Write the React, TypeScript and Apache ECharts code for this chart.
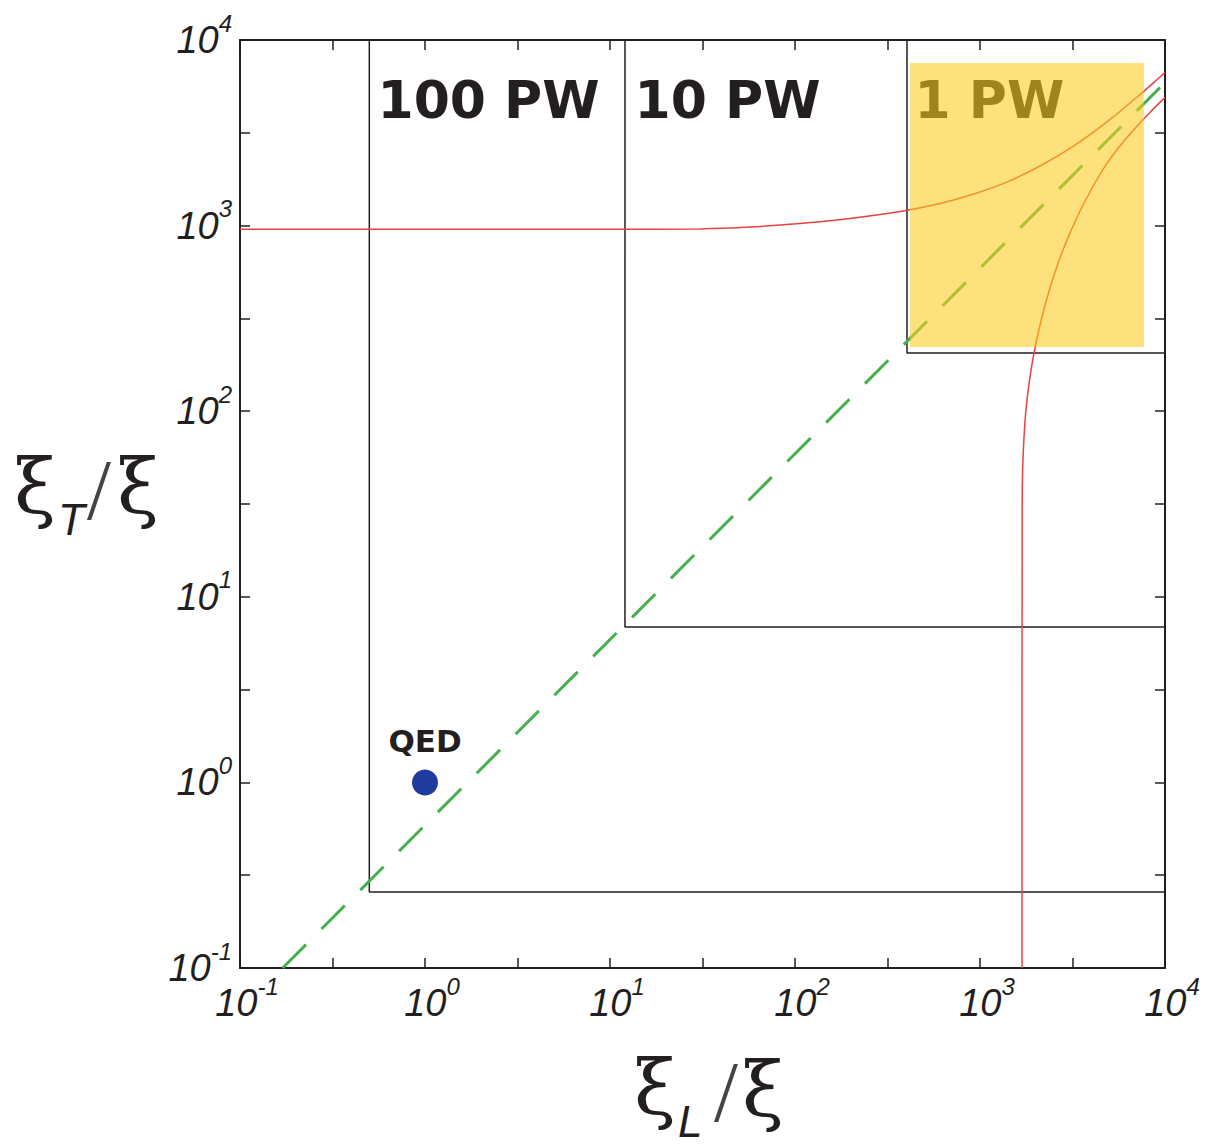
import React, { useEffect, useRef } from "react";
import * as echarts from "echarts";

// ---- axis tick labels (exponents of 10) ----
const decadeExponents = [-1, 0, 1, 2, 3, 4];

// ---- upper red branch (xi_L/xi, xi_T/xi) ----
const upperXiL = [0.1, 8.8, 30.6, 57.1, 106, 198, 370, 608, 916, 1384, 2109, 3184, 4801, 7230, 10000];
const upperXiT = [955, 955, 960, 982, 1026, 1091, 1191, 1316, 1475, 1709, 2094, 2674, 3589, 5024, 6680];

// ---- lower red branch ----
const lowerXiL = [1687, 1687, 1691, 1699, 1726, 1771, 1852, 1973, 2142, 2370, 2680, 3112, 3723, 4606, 5483, 6761, 8537, 10000];
const lowerXiT = [0.1, 2.78, 33.2, 48.2, 70, 101.4, 147, 214, 310, 450, 653, 946, 1374, 1995, 2553, 3272, 4197, 4909];

// ---- green dashed line ----
const greenXiL = [0.17, 10000];
const greenXiT = [0.1, 5900];

// ---- power boxes ----
const boxNames = ["100 PW", "10 PW", "1 PW"];
const boxCornerL = [0.5, 12.05, 403];
const boxCornerT = [0.257, 6.87, 206];
const boxLabelL = [0.55, 13.5, 440];
const boxLabelT = [4750, 4750, 4750];

// ---- highlighted 1 PW region ----
const highlightL = [419, 7690];
const highlightT = [222, 7516];

// ---- QED point ----
const qedL = [1.0];
const qedT = [1.0];

const AXIS_MAX = 10000;
const INK = "#231f20";

const zip = (a: number[], b: number[]) => a.map((v, i) => [v, b[i]]);

export default function App() {
  const ref = useRef<HTMLDivElement>(null);

  useEffect(() => {
    document.body.style.margin = "0";
    if (!ref.current) return;
    const chart = echarts.init(ref.current, null, { renderer: "svg" });

    const labelRich = {
      b: { fontSize: 38, fontStyle: "italic", fontFamily: "Liberation Sans", color: INK },
      s: { fontSize: 24, fontStyle: "italic", fontFamily: "Liberation Sans", color: INK, padding: [0, 0, 34, 0] },
    };
    const fmt = (v: number) => {
      const e = Math.round(v * 2) / 2;
      if (Number.isInteger(e) && decadeExponents.includes(e)) return `{b|10}{s|${e}}`;
      return "";
    };
    const lineAxis = { show: true, onZero: false, lineStyle: { color: INK, width: 2 } };
    const tick = { show: true, inside: true, length: 10, lineStyle: { color: INK, width: 1.5 } };

    const boxSeries = boxNames.map((name, i) => ({
      name,
      type: "line",
      xAxisIndex: 0,
      yAxisIndex: 0,
      symbol: "none",
      z: 2,
      lineStyle: { color: INK, width: 1.5 },
      data: [
        [boxCornerL[i], AXIS_MAX],
        [boxCornerL[i], boxCornerT[i]],
        [AXIS_MAX, boxCornerT[i]],
      ],
    }));

    const xiFont = '76px "DejaVu Serif"';
    const subFont = 'italic 44px "Liberation Sans"';
    const slashFont = '86px "Liberation Serif"';

    const option: any = {
      animation: false,
      grid: { left: 240, top: 40, width: 925, height: 928 },
      xAxis: [
        { type: "log", min: 0.1, max: AXIS_MAX, show: false, gridIndex: 0 },
        {
          type: "value", min: -1, max: 4, interval: 0.5, position: "bottom", gridIndex: 0,
          axisLine: lineAxis, axisTick: tick, splitLine: { show: false },
          axisLabel: { show: true, interval: 0, formatter: fmt, rich: labelRich, margin: 6, padding: [0, 0, 0, 14], showMinLabel: true, showMaxLabel: true },
        },
        {
          type: "value", min: -1, max: 4, interval: 0.5, position: "top", gridIndex: 0,
          axisLine: lineAxis, axisTick: tick, splitLine: { show: false }, axisLabel: { show: false },
        },
      ],
      yAxis: [
        { type: "log", min: 0.1, max: AXIS_MAX, show: false, gridIndex: 0 },
        {
          type: "value", min: -1, max: 4, interval: 0.5, position: "left", gridIndex: 0,
          axisLine: lineAxis, axisTick: tick, splitLine: { show: false },
          axisLabel: { show: true, interval: 0, formatter: fmt, rich: labelRich, margin: 8, showMinLabel: true, showMaxLabel: true },
        },
        {
          type: "value", min: -1, max: 4, interval: 0.5, position: "right", gridIndex: 0,
          axisLine: lineAxis, axisTick: tick, splitLine: { show: false }, axisLabel: { show: false },
        },
      ],
      series: [
        ...boxSeries,
        {
          name: "upper",
          type: "line", xAxisIndex: 0, yAxisIndex: 0, symbol: "none", z: 2,
          smooth: 0.2,
          lineStyle: { color: "#e8413f", width: 1.5 },
          data: zip(upperXiL, upperXiT),
        },
        {
          name: "lower",
          type: "line", xAxisIndex: 0, yAxisIndex: 0, symbol: "none", z: 2,
          smooth: 0.2,
          lineStyle: { color: "#e8413f", width: 1.5 },
          data: zip(lowerXiL, lowerXiT),
        },
        {
          name: "diagonal",
          type: "line", xAxisIndex: 0, yAxisIndex: 0, symbol: "none", z: 2,
          lineStyle: { color: "#46b04c", width: 3, type: [33, 22] },
          data: zip(greenXiL, greenXiT),
        },
        {
          name: "boxLabels",
          type: "scatter", xAxisIndex: 0, yAxisIndex: 0, z: 2,
          symbolSize: 1, itemStyle: { color: "transparent", opacity: 1 },
          label: {
            show: true, position: "right", distance: 0, formatter: "{b}",
            fontFamily: "DejaVu Sans", fontWeight: "bold", fontSize: 52, color: INK,
          },
          data: boxNames.map((n, i) => ({ name: n, value: [boxLabelL[i], boxLabelT[i]] })),
        },
        {
          name: "highlight",
          type: "custom", xAxisIndex: 0, yAxisIndex: 0, z: 10, silent: true,
          data: [[highlightL[0], highlightT[0], highlightL[1], highlightT[1]]],
          renderItem: (params: any, api: any) => {
            const p1 = api.coord([api.value(0), api.value(3)]);
            const p2 = api.coord([api.value(2), api.value(1)]);
            return {
              type: "rect",
              shape: { x: p1[0], y: p1[1], width: p2[0] - p1[0], height: p2[1] - p1[1] },
              style: { fill: "rgba(252,204,30,0.58)" },
            };
          },
        },
        {
          name: "QED",
          type: "scatter", xAxisIndex: 0, yAxisIndex: 0, z: 12,
          symbolSize: 26, itemStyle: { color: "#1f3b9c", opacity: 1 },
          label: {
            show: true, position: "top", distance: 13, formatter: "QED",
            fontFamily: "DejaVu Sans", fontWeight: "bold", fontSize: 31, color: INK,
          },
          data: zip(qedL, qedT),
        },
      ],
      graphic: [
        // y-axis name  ξ_T / ξ
        { type: "text", x: 14, y: 486, style: { text: "ξ", font: xiFont, fill: INK, align: "left", verticalAlign: "middle" } },
        { type: "text", x: 58, y: 519, style: { text: "T", font: subFont, fill: INK, align: "left", verticalAlign: "middle" } },
        { type: "text", x: 99, y: 490, style: { text: "/", font: slashFont, fill: "#444", align: "center", verticalAlign: "middle" } },
        { type: "text", x: 117, y: 486, style: { text: "ξ", font: xiFont, fill: INK, align: "left", verticalAlign: "middle" } },
        // x-axis name  ξ_L / ξ
        { type: "text", x: 634, y: 1087, style: { text: "ξ", font: xiFont, fill: INK, align: "left", verticalAlign: "middle" } },
        { type: "text", x: 678, y: 1121, style: { text: "L", font: subFont, fill: INK, align: "left", verticalAlign: "middle" } },
        { type: "text", x: 726, y: 1092, style: { text: "/", font: slashFont, fill: "#444", align: "center", verticalAlign: "middle" } },
        { type: "text", x: 742, y: 1089, style: { text: "ξ", font: xiFont, fill: INK, align: "left", verticalAlign: "middle" } },
      ],
    };

    chart.setOption(option);
    return () => chart.dispose();
  }, []);

  return <div ref={ref} style={{ width: 1210, height: 1145 }} />;
}
